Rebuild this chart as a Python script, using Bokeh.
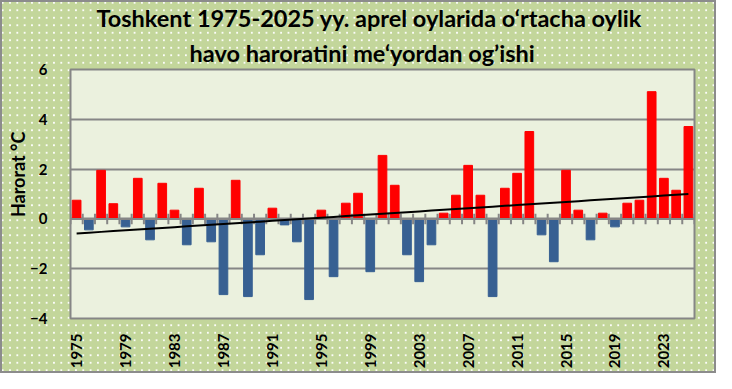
import math
import numpy as np
from bokeh.plotting import figure
from bokeh.models import ColumnDataSource, FixedTicker, Title
from bokeh.embed import file_html
from bokeh.resources import INLINE

# ---------------- data ----------------
years = list(range(1975, 2026))
anomaly = [0.75, -0.44, 1.95, 0.61, -0.32, 1.63, -0.84, 1.43, 0.35, -1.04,
           1.23, -0.92, -3.04, 1.55, -3.12, -1.44, 0.43, -0.24, -0.92, -3.24,
           0.35, -2.32, 0.63, 1.03, -2.12, 2.55, 1.35, -1.44, -2.52, -1.04,
           0.23, 0.95, 2.15, 0.95, -3.12, 1.23, 1.83, 3.51, -0.64, -1.72,
           1.95, 0.35, -0.84, 0.23, -0.32, 0.63, 0.75, 5.11, 1.63, 1.15, 3.71]
x_tick_years = list(range(1975, 2024, 4))
y_ticks = [-4, -2, 0, 2, 4, 6]
title_line1 = "Toshkent 1975-2025 yy. aprel oylarida o\u2018rtacha oylik"
title_line2 = "havo haroratini me\u2018yordan og\u2019ishi"
y_label = "Harorat \u00b0C"

# ---------------- style ----------------
FONT = "Lato"
POS_COLOR = "#FF0000"
NEG_COLOR = "#376092"
GRID = "#868686"
PLOT_BG = "#EBF1DE"
OUTER_BG = "#C3D69B"

colors = [POS_COLOR if v >= 0 else NEG_COLOR for v in anomaly]
src = ColumnDataSource(dict(year=years, anomaly=anomaly, color=colors))

p = figure(width=716, height=373,
           x_range=(years[0] - 0.5, years[-1] + 0.5), y_range=(y_ticks[0], y_ticks[-1]),
           output_backend="svg", toolbar_location=None,
           min_border_left=70, min_border_right=22,
           min_border_top=69, min_border_bottom=55)

p.background_fill_color = PLOT_BG
p.border_fill_color = None
p.styles = {
    "background-color": OUTER_BG,
    "background-image": "radial-gradient(circle, rgba(255,255,255,0.95) 0.75px, rgba(255,255,255,0) 1.25px)",
    "background-size": "7.33px 7.5px",
    "background-position": "-1px -1px",
    "box-shadow": "inset 0 0 0 2px #8C8C8C",
}
p.outline_line_color = GRID
p.outline_line_width = 2

# grid
p.xgrid.visible = False
p.ygrid.ticker = FixedTicker(ticks=y_ticks)
p.ygrid.grid_line_color = GRID
p.ygrid.grid_line_width = 2

# y axis
p.yaxis.ticker = FixedTicker(ticks=y_ticks)
p.yaxis.axis_line_color = None
p.yaxis.major_tick_line_color = None
p.yaxis.minor_tick_line_color = None
p.yaxis.major_label_standoff = 17
p.yaxis.major_label_text_font = FONT
p.yaxis.major_label_text_font_style = "bold"
p.yaxis.major_label_text_font_size = "15px"
p.yaxis.major_label_text_color = "black"
# leading no-break spaces lift the label above the frame centre, as in the original
p.yaxis.axis_label = "\u00a0" * 9 + y_label
p.yaxis.axis_label_text_font = FONT
p.yaxis.axis_label_text_font_style = "bold"
p.yaxis.axis_label_text_font_size = "18px"
p.yaxis.axis_label_text_color = "black"
p.yaxis.axis_label_standoff = -2

# x axis
p.xaxis.ticker = FixedTicker(ticks=x_tick_years)
p.xaxis.axis_line_color = None
p.xaxis.major_tick_line_color = None
p.xaxis.minor_tick_line_color = None
p.xaxis.major_label_orientation = math.pi / 2
p.xaxis.major_label_standoff = 9
p.xaxis.major_label_text_font = FONT
p.xaxis.major_label_text_font_style = "bold"
p.xaxis.major_label_text_font_size = "15px"
p.xaxis.major_label_text_color = "black"

# bars
p.vbar(x="year", top="anomaly", bottom=0, width=0.71, color="color", source=src)

# zero axis line with category tick marks
p.segment(x0=[years[0] - 0.5], y0=[0], x1=[years[-1] + 0.5], y1=[0],
          line_color=GRID, line_width=2)
bounds = [y - 0.5 for y in years] + [years[-1] + 0.5]
p.segment(x0=bounds, y0=[-0.21] * len(bounds), x1=bounds, y1=[0.21] * len(bounds),
          line_color=GRID, line_width=2)

# linear trend
coef = np.polyfit(years, anomaly, 1)
p.line(years, np.polyval(coef, years), line_color="black", line_width=2)

# titles (two lines)
p.add_layout(Title(text=title_line2, align="left", offset=119, text_font=FONT,
                   text_font_style="bold", text_font_size="23.5px", text_color="black",
                   standoff=6), "above")
p.add_layout(Title(text=title_line1, align="left", offset=26, text_font=FONT,
                   text_font_style="bold", text_font_size="23.5px", text_color="black",
                   standoff=3), "above")

open("out.html", "w").write(file_html(p, INLINE))
